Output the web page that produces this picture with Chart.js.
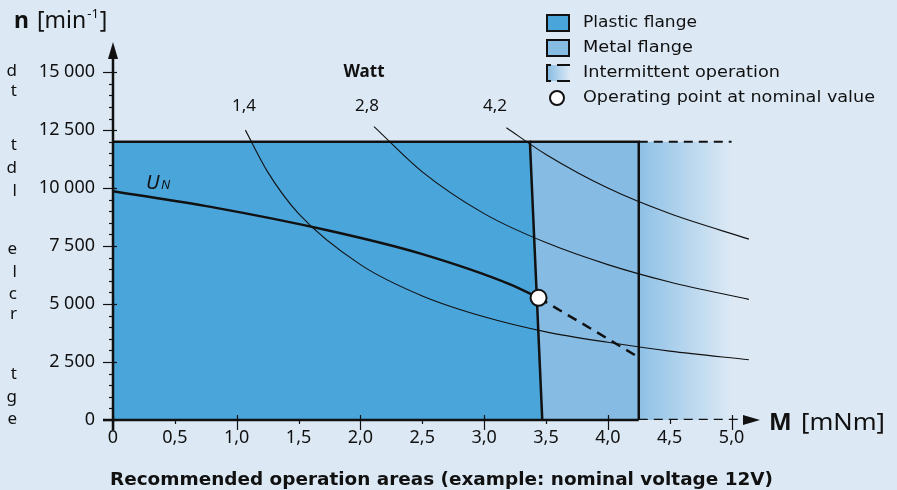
<!DOCTYPE html>
<html lang="en">
<head>
    <meta charset="UTF-8">
    <title>Recommended operation areas</title>
    <script src="https://cdn.jsdelivr.net/npm/chart.js"></script>
    <style>
        html, body { margin: 0; padding: 0; background: #dce9f5; }
        canvas { display: block; }
    </style>
</head>
<body>
    <canvas id="opChart" width="897" height="490"></canvas>
    <script>
        // torque M [mNm] / speed n [min-1]
        const unTorque = [0, 0.79, 1.76, 2.48, 3.21, 3.44];
        const unSpeed = [9870, 9190, 8150, 7185, 5850, 5270];
        const unExtTorque = [3.44, 3.85, 4.25];
        const unExtSpeed = [5270, 3980, 2700];

        const p14Torque = [1.07, 1.25, 1.5, 2.0, 2.5, 3.0, 3.5, 4.0, 4.5, 5.14];
        const p14Speed = [12500, 10700, 8900, 6700, 5350, 4450, 3800, 3350, 2970, 2600];
        const p28Torque = [2.11, 2.5, 3.0, 3.5, 4.0, 4.5, 5.14];
        const p28Speed = [12650, 10700, 8900, 7650, 6700, 5950, 5200];
        const p42Torque = [3.18, 3.5, 4.0, 4.5, 5.14];
        const p42Speed = [12600, 11450, 10000, 8900, 7800];

        const plasticTorque = [0, 3.37, 3.47];
        const plasticSpeed = [12000, 12000, 0];
        const metalTorque = [3.37, 4.25, 4.25];
        const metalSpeed = [12000, 12000, 0];
        const intermTorque = [4.25, 5.0];
        const intermSpeed = [12000, 12000];
        const axisDashTorque = [4.25, 5.08];
        const axisDashSpeed = [0, 0];

        const nominalPoint = [{ x: 3.44, y: 5270 }];

        const xTicks = [0, 0.5, 1.0, 1.5, 2.0, 2.5, 3.0, 3.5, 4.0, 4.5, 5.0];
        const yTicks = [0, 2500, 5000, 7500, 10000, 12500, 15000];
        const wattLabels = ['1,4', '2,8', '4,2'];
        const legendLabels = ['Plastic flange', 'Metal flange', 'Intermittent operation', 'Operating point at nominal value'];

        const FONT = '"Noto Sans", "Open Sans", sans-serif';
        const WIDE = '"DejaVu Sans", "Noto Sans", sans-serif';
        const INK = '#111';
        const PLASTIC = '#4aa5da';
        const METAL = '#86bbe3';
        const BG = '#dce9f5';

        function pts(xs, ys) {
            return xs.map((x, i) => ({ x: x, y: ys[i] }));
        }

        function fadeFill(context) {
            const chart = context.chart;
            if (!chart.chartArea) return METAL;
            const xs = chart.scales.x;
            const g = chart.ctx.createLinearGradient(xs.getPixelForValue(4.25), 0, xs.getPixelForValue(5.0), 0);
            g.addColorStop(0, '#8ec1e6');
            g.addColorStop(1, BG);
            return g;
        }

        function curve(xs, ys, width, order) {
            return {
                data: pts(xs, ys), borderColor: INK, borderWidth: width, pointRadius: 0,
                fill: false, cubicInterpolationMode: 'monotone', order: order
            };
        }

        // text squeezed or stretched to the width it has in the picture
        function fitText(c, text, x, y, width) {
            const w = c.measureText(text).width;
            c.save();
            c.translate(x, y);
            c.scale(width / w, 1);
            c.fillText(text, 0, 0);
            c.restore();
        }

        const decorations = {
            id: 'decorations',
            afterDatasetsDraw(chart) {
                const c = chart.ctx;
                const xs = chart.scales.x, ys = chart.scales.y;
                const x0 = xs.getPixelForValue(0), y0 = ys.getPixelForValue(0);
                const top = chart.chartArea.top, right = chart.chartArea.right;
                c.save();
                c.strokeStyle = INK;
                c.fillStyle = INK;

                // y axis + arrow
                c.lineWidth = 2.5;
                c.beginPath();
                c.moveTo(x0, y0 + 10);
                c.lineTo(x0, top + 10);
                c.stroke();
                c.beginPath();
                c.moveTo(x0, top);
                c.lineTo(x0 - 5, top + 17);
                c.lineTo(x0 + 5, top + 17);
                c.closePath();
                c.fill();

                // x axis (solid part), shaft and arrow
                c.beginPath();
                c.moveTo(x0 - 10, y0);
                c.lineTo(xs.getPixelForValue(4.25), y0);
                c.moveTo(xs.getPixelForValue(5.12), y0);
                c.lineTo(right - 10, y0);
                c.stroke();
                c.beginPath();
                c.moveTo(right, y0);
                c.lineTo(right - 17, y0 - 5);
                c.lineTo(right - 17, y0 + 5);
                c.closePath();
                c.fill();

                // tick marks
                c.lineWidth = 1.2;
                for (let v = 0; v <= 15000; v += 500) {
                    const y = Math.round(ys.getPixelForValue(v)) + 0.5;
                    c.beginPath();
                    if (v % 2500 === 0) { c.moveTo(x0 - 10, y); c.lineTo(x0 + 4, y); }
                    else { c.moveTo(x0 - 4, y); c.lineTo(x0, y); }
                    c.stroke();
                }
                xTicks.forEach((v, i) => {
                    const x = Math.round(xs.getPixelForValue(v)) + 0.5;
                    c.beginPath();
                    if (i % 2 === 0) { c.moveTo(x, y0 - 5); c.lineTo(x, y0 + 10); }
                    else { c.moveTo(x, y0); c.lineTo(x, y0 + 4); }
                    c.stroke();
                });
                c.restore();
            },
            afterDraw(chart) {
                const c = chart.ctx;
                c.save();
                c.fillStyle = INK;
                c.textBaseline = 'alphabetic';

                // axis titles
                c.textAlign = 'left';
                c.font = 'bold 23px ' + FONT;
                c.fillText('n', 14, 28);
                c.font = '23px ' + FONT;
                c.fillText('[min', 37, 28);
                let w = c.measureText('[min').width;
                c.font = '13px ' + FONT;
                c.fillText('-1', 37 + w + 1, 18);
                let w2 = c.measureText('-1').width;
                c.font = '23px ' + FONT;
                c.fillText(']', 37 + w + w2 + 2, 28);

                c.font = 'bold 24px ' + FONT;
                c.fillText('M', 769, 430);
                c.font = '24px ' + FONT;
                fitText(c, '[mNm]', 801, 430, 84);

                // Watt labels
                c.textAlign = 'center';
                c.font = 'bold 17px ' + FONT;
                c.fillText('Watt', 364, 77);
                c.font = '17px ' + FONT;
                const wx = [244, 367, 495];
                wattLabels.forEach((t, i) => c.fillText(t, wx[i], 111));

                // U_N label
                c.textAlign = 'left';
                c.font = 'italic 20px ' + FONT;
                c.fillText('U', 146, 189);
                c.font = 'italic 13px ' + FONT;
                c.fillText('N', 161, 189);

                // bottom caption
                c.font = 'bold 17px ' + WIDE;
                fitText(c, 'Recommended operation areas (example: nominal voltage 12V)', 110, 485, 663);

                // legend
                const rows = [23, 48, 73, 98];
                c.textBaseline = 'middle';
                c.font = '16px ' + WIDE;
                const lw = [114, 110, 197, 292];
                legendLabels.forEach((t, i) => fitText(c, t, 583, rows[i], lw[i]));
                c.strokeStyle = INK;
                c.lineWidth = 2;
                c.fillStyle = PLASTIC;
                c.fillRect(547, rows[0] - 8, 22, 16);
                c.strokeRect(547, rows[0] - 8, 22, 16);
                c.fillStyle = METAL;
                c.fillRect(547, rows[1] - 8, 22, 16);
                c.strokeRect(547, rows[1] - 8, 22, 16);
                const g = c.createLinearGradient(547, 0, 570, 0);
                g.addColorStop(0, METAL);
                g.addColorStop(1, BG);
                c.fillStyle = g;
                c.fillRect(547, rows[2] - 8, 22, 16);
                c.beginPath();
                c.moveTo(551, rows[2] - 8); c.lineTo(547, rows[2] - 8);
                c.lineTo(547, rows[2] + 8); c.lineTo(551, rows[2] + 8);
                c.moveTo(557, rows[2] - 8); c.lineTo(570, rows[2] - 8);
                c.moveTo(557, rows[2] + 8); c.lineTo(570, rows[2] + 8);
                c.stroke();
                c.fillStyle = '#fff';
                c.beginPath();
                c.arc(557, rows[3], 7, 0, Math.PI * 2);
                c.fill();
                c.stroke();

                // cut-off text from neighbouring column
                c.fillStyle = INK;
                c.textAlign = 'right';
                c.font = '17px ' + FONT;
                const frag = [['d', 71], ['t', 91], ['t', 145], ['d', 168], ['l', 191],
                    ['e', 249], ['l', 272], ['c', 294], ['r', 314], ['t', 374], ['g', 397], ['e', 419]];
                frag.forEach(f => c.fillText(f[0], 17, f[1]));
                c.restore();
            }
        };

        new Chart(document.getElementById('opChart'), {
            type: 'line',
            data: {
                datasets: [
                    { data: pts(intermTorque, intermSpeed), borderColor: INK, borderWidth: 2, borderDash: [9, 6],
                      backgroundColor: fadeFill, fill: 'origin', pointRadius: 0, order: 10 },
                    { data: pts(metalTorque, metalSpeed), borderColor: INK, borderWidth: 2.5,
                      backgroundColor: METAL, fill: 'origin', pointRadius: 0, order: 9 },
                    { data: pts(plasticTorque, plasticSpeed), borderColor: INK, borderWidth: 2.5,
                      backgroundColor: PLASTIC, fill: 'origin', pointRadius: 0, order: 8 },
                    curve(p14Torque, p14Speed, 1.1, 6),
                    curve(p28Torque, p28Speed, 1.1, 6),
                    curve(p42Torque, p42Speed, 1.1, 6),
                    { data: pts(axisDashTorque, axisDashSpeed), borderColor: INK, borderWidth: 2.5, borderDash: [9, 6],
                      pointRadius: 0, fill: false, order: 5 },
                    curve(unTorque, unSpeed, 2.5, 4),
                    { data: pts(unExtTorque, unExtSpeed), borderColor: INK, borderWidth: 2.5, borderDash: [10, 7],
                      pointRadius: 0, fill: false, order: 4 },
                    { data: nominalPoint, showLine: false, pointRadius: 8, pointBackgroundColor: '#fff',
                      pointBorderColor: INK, pointBorderWidth: 2, order: 1 }
                ]
            },
            options: {
                responsive: false,
                animation: false,
                layout: { padding: { top: 42, right: 137, left: 0, bottom: 0 } },
                plugins: { legend: { display: false }, tooltip: { enabled: false } },
                scales: {
                    x: {
                        type: 'linear', min: 0, max: 5.23,
                        border: { display: false },
                        grid: { display: false, drawTicks: false },
                        afterBuildTicks(s) { s.ticks = xTicks.map(v => ({ value: v })); },
                        ticks: {
                            autoSkip: false, maxRotation: 0,
                            padding: 7, color: INK, font: { family: FONT, size: 18 },
                            callback: v => v === 0 ? '0' : v.toFixed(1).replace('.', ',')
                        },
                        afterFit(s) { s.height = 70; }
                    },
                    y: {
                        type: 'linear', min: 0, max: 16300,
                        border: { display: false },
                        grid: { display: false, drawTicks: false },
                        afterBuildTicks(s) { s.ticks = yTicks.map(v => ({ value: v })); },
                        ticks: {
                            autoSkip: false,
                            padding: 18, color: INK, font: { family: FONT, size: 18 },
                            callback: v => v >= 1000 ? Math.floor(v / 1000) + ' ' + String(v % 1000).padStart(3, '0') : String(v)
                        },
                        afterFit(s) { s.width = 113; }
                    }
                }
            },
            plugins: [decorations]
        });
    </script>
</body>
</html>
